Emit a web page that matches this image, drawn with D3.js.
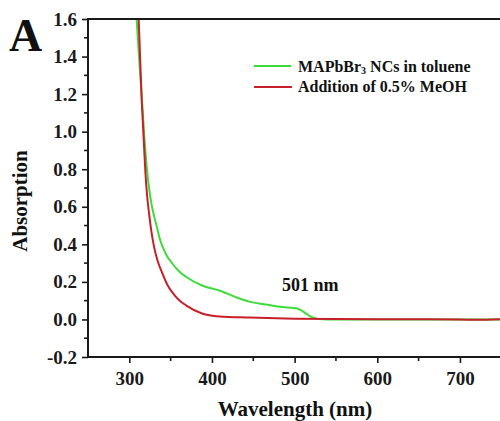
<!DOCTYPE html>
<html>
<head>
<meta charset="utf-8">
<script src="https://cdn.jsdelivr.net/npm/d3@7"></script>
<style>
  html, body { margin: 0; padding: 0; background: #fff; }
  svg { display: block; font-family: "Liberation Serif", "Times New Roman", serif; }
</style>
</head>
<body>
<svg id="chart" width="500" height="421"></svg>
<script>
// ---- Data ----
const greenWavelength = [304, 308.8, 312, 315.4, 318.5, 320.5, 322.5, 324.5, 327, 330, 333.5, 336.5, 340, 345, 352, 360, 369, 388, 409, 430, 445, 465, 485, 497, 502, 508, 515, 521, 528, 540, 600, 700, 750];
const greenAbsorption = [1.95, 1.6, 1.38, 1.165, 0.95, 0.84, 0.75, 0.68, 0.61, 0.55, 0.49, 0.435, 0.39, 0.342, 0.298, 0.257, 0.226, 0.181, 0.154, 0.117, 0.095, 0.08, 0.066, 0.062, 0.06, 0.048, 0.028, 0.012, 0.003, 0.0, 0.0, 0.0, 0.0];
const redWavelength = [306, 311.3, 315, 317.5, 319.5, 321.5, 324, 327, 330, 334, 340, 346, 352, 360, 369, 388, 409, 445, 500, 550, 650, 700, 720, 750];
const redAbsorption = [1.95, 1.6, 1.165, 0.95, 0.78, 0.66, 0.56, 0.46, 0.385, 0.315, 0.245, 0.185, 0.144, 0.104, 0.074, 0.032, 0.016, 0.01, 0.004, 0.002, 0.001, 0.0, -0.002, 0.001];
const seriesNames = ["MAPbBr", "Addition of 0.5% MeOH"];
const xTickValues = [300, 400, 500, 600, 700];
const xMinorTicks = [350, 450, 550, 650];
const yTickValues = [-0.2, 0.0, 0.2, 0.4, 0.6, 0.8, 1.0, 1.2, 1.4, 1.6];
const yMinorTicks = [-0.1, 0.1, 0.3, 0.5, 0.7, 0.9, 1.1, 1.3, 1.5];
const annotation = "501 nm";

(function () {
// ---- Layout ----
const svg = d3.select("#chart");
const pLeft = 88, pRight = 501.25, pTop = 19, pBottom = 357;
const x = d3.scaleLinear().domain([250, 750]).range([pLeft, pRight]);
const y = d3.scaleLinear().domain([-0.2, 1.6]).range([pBottom, pTop]);
const axisColor = "#1a1a1a";

svg.append("defs").append("clipPath").attr("id", "plotclip")
  .append("rect").attr("x", pLeft).attr("y", pTop).attr("width", 500 - pLeft).attr("height", pBottom - pTop);

// Curves
const line = d3.line().x(d => x(d[0])).y(d => y(d[1])).curve(d3.curveMonotoneX);
const greenData = greenWavelength.map((w, i) => [w, greenAbsorption[i]]);
const redData = redWavelength.map((w, i) => [w, redAbsorption[i]]);
const gCurves = svg.append("g").attr("clip-path", "url(#plotclip)");
gCurves.append("path").datum(greenData).attr("d", line)
  .attr("fill", "none").attr("stroke", "#3ddc3a").attr("stroke-width", 2);
gCurves.append("path").datum(redData).attr("d", line)
  .attr("fill", "none").attr("stroke", "#c8202a").attr("stroke-width", 2);

// Axes
const xAxis = d3.axisBottom(x).tickValues(xTickValues).tickFormat(d3.format("d"))
  .tickSize(6).tickPadding(9).tickSizeOuter(0);
const gx = svg.append("g").attr("transform", `translate(0,${pBottom})`).call(xAxis);
const yAxis = d3.axisLeft(y).tickValues(yTickValues)
  .tickFormat(d => d3.format(".1f")(d).replace("\u2212", "-"))
  .tickSize(6).tickPadding(5).tickSizeOuter(0);
const gy = svg.append("g").attr("transform", `translate(${pLeft},0)`).call(yAxis);

[gx, gy].forEach(g => {
  g.select(".domain").remove();
  g.selectAll(".tick line").attr("stroke", axisColor).attr("stroke-width", 1.6);
  g.selectAll(".tick text").attr("fill", axisColor)
    .style("font-family", "'Liberation Serif', 'Times New Roman', serif")
    .style("font-size", "19px").style("font-weight", "bold");
});

// Minor ticks
svg.append("g").selectAll("line").data(xMinorTicks).join("line")
  .attr("x1", d => x(d)).attr("x2", d => x(d)).attr("y1", pBottom).attr("y2", pBottom + 4)
  .attr("stroke", axisColor).attr("stroke-width", 1.6);
svg.append("g").selectAll("line").data(yMinorTicks).join("line")
  .attr("x1", pLeft - 4).attr("x2", pLeft).attr("y1", d => y(d)).attr("y2", d => y(d))
  .attr("stroke", axisColor).attr("stroke-width", 1.6);

// Spines (left, bottom, top)
svg.append("line").attr("x1", pLeft).attr("x2", pLeft).attr("y1", pTop - 1).attr("y2", pBottom + 1)
  .attr("stroke", axisColor).attr("stroke-width", 2);
svg.append("line").attr("x1", pLeft).attr("x2", 500).attr("y1", pBottom).attr("y2", pBottom)
  .attr("stroke", axisColor).attr("stroke-width", 2);
svg.append("line").attr("x1", pLeft).attr("x2", 500).attr("y1", pTop).attr("y2", pTop)
  .attr("stroke", axisColor).attr("stroke-width", 2);

// Panel label
svg.append("text").attr("x", 9).attr("y", 51).text("A")
  .attr("fill", "#111").style("font-size", "46px").style("font-weight", "bold");

// Axis titles
svg.append("text").attr("transform", "translate(27,201) rotate(-90)")
  .attr("text-anchor", "middle").text("Absorption")
  .attr("fill", "#111").style("font-size", "21px").style("font-weight", "bold");
svg.append("text").attr("x", 295).attr("y", 416).attr("text-anchor", "middle")
  .text("Wavelength (nm)")
  .attr("fill", "#111").style("font-size", "21px").style("font-weight", "bold");

// Annotation
svg.append("text").attr("x", 282).attr("y", 291).text(annotation)
  .attr("fill", "#111").style("font-size", "18px").style("font-weight", "bold");

// Legend
const lg = svg.append("g");
lg.append("line").attr("x1", 254).attr("x2", 291).attr("y1", 66).attr("y2", 66)
  .attr("stroke", "#3ddc3a").attr("stroke-width", 2);
lg.append("line").attr("x1", 254).attr("x2", 292).attr("y1", 87).attr("y2", 87)
  .attr("stroke", "#c8202a").attr("stroke-width", 2);
const t1 = lg.append("text").attr("x", 298).attr("y", 72)
  .attr("fill", "#111").style("font-size", "16px").style("font-weight", "bold");
t1.append("tspan").text(seriesNames[0]);
t1.append("tspan").attr("dy", 2).style("font-size", "10px").text("3");
t1.append("tspan").attr("dy", -2).text(" NCs in toluene");
lg.append("text").attr("x", 298).attr("y", 92).text(seriesNames[1])
  .attr("fill", "#111").style("font-size", "16px").style("font-weight", "bold");
})();
</script>
</body>
</html>
